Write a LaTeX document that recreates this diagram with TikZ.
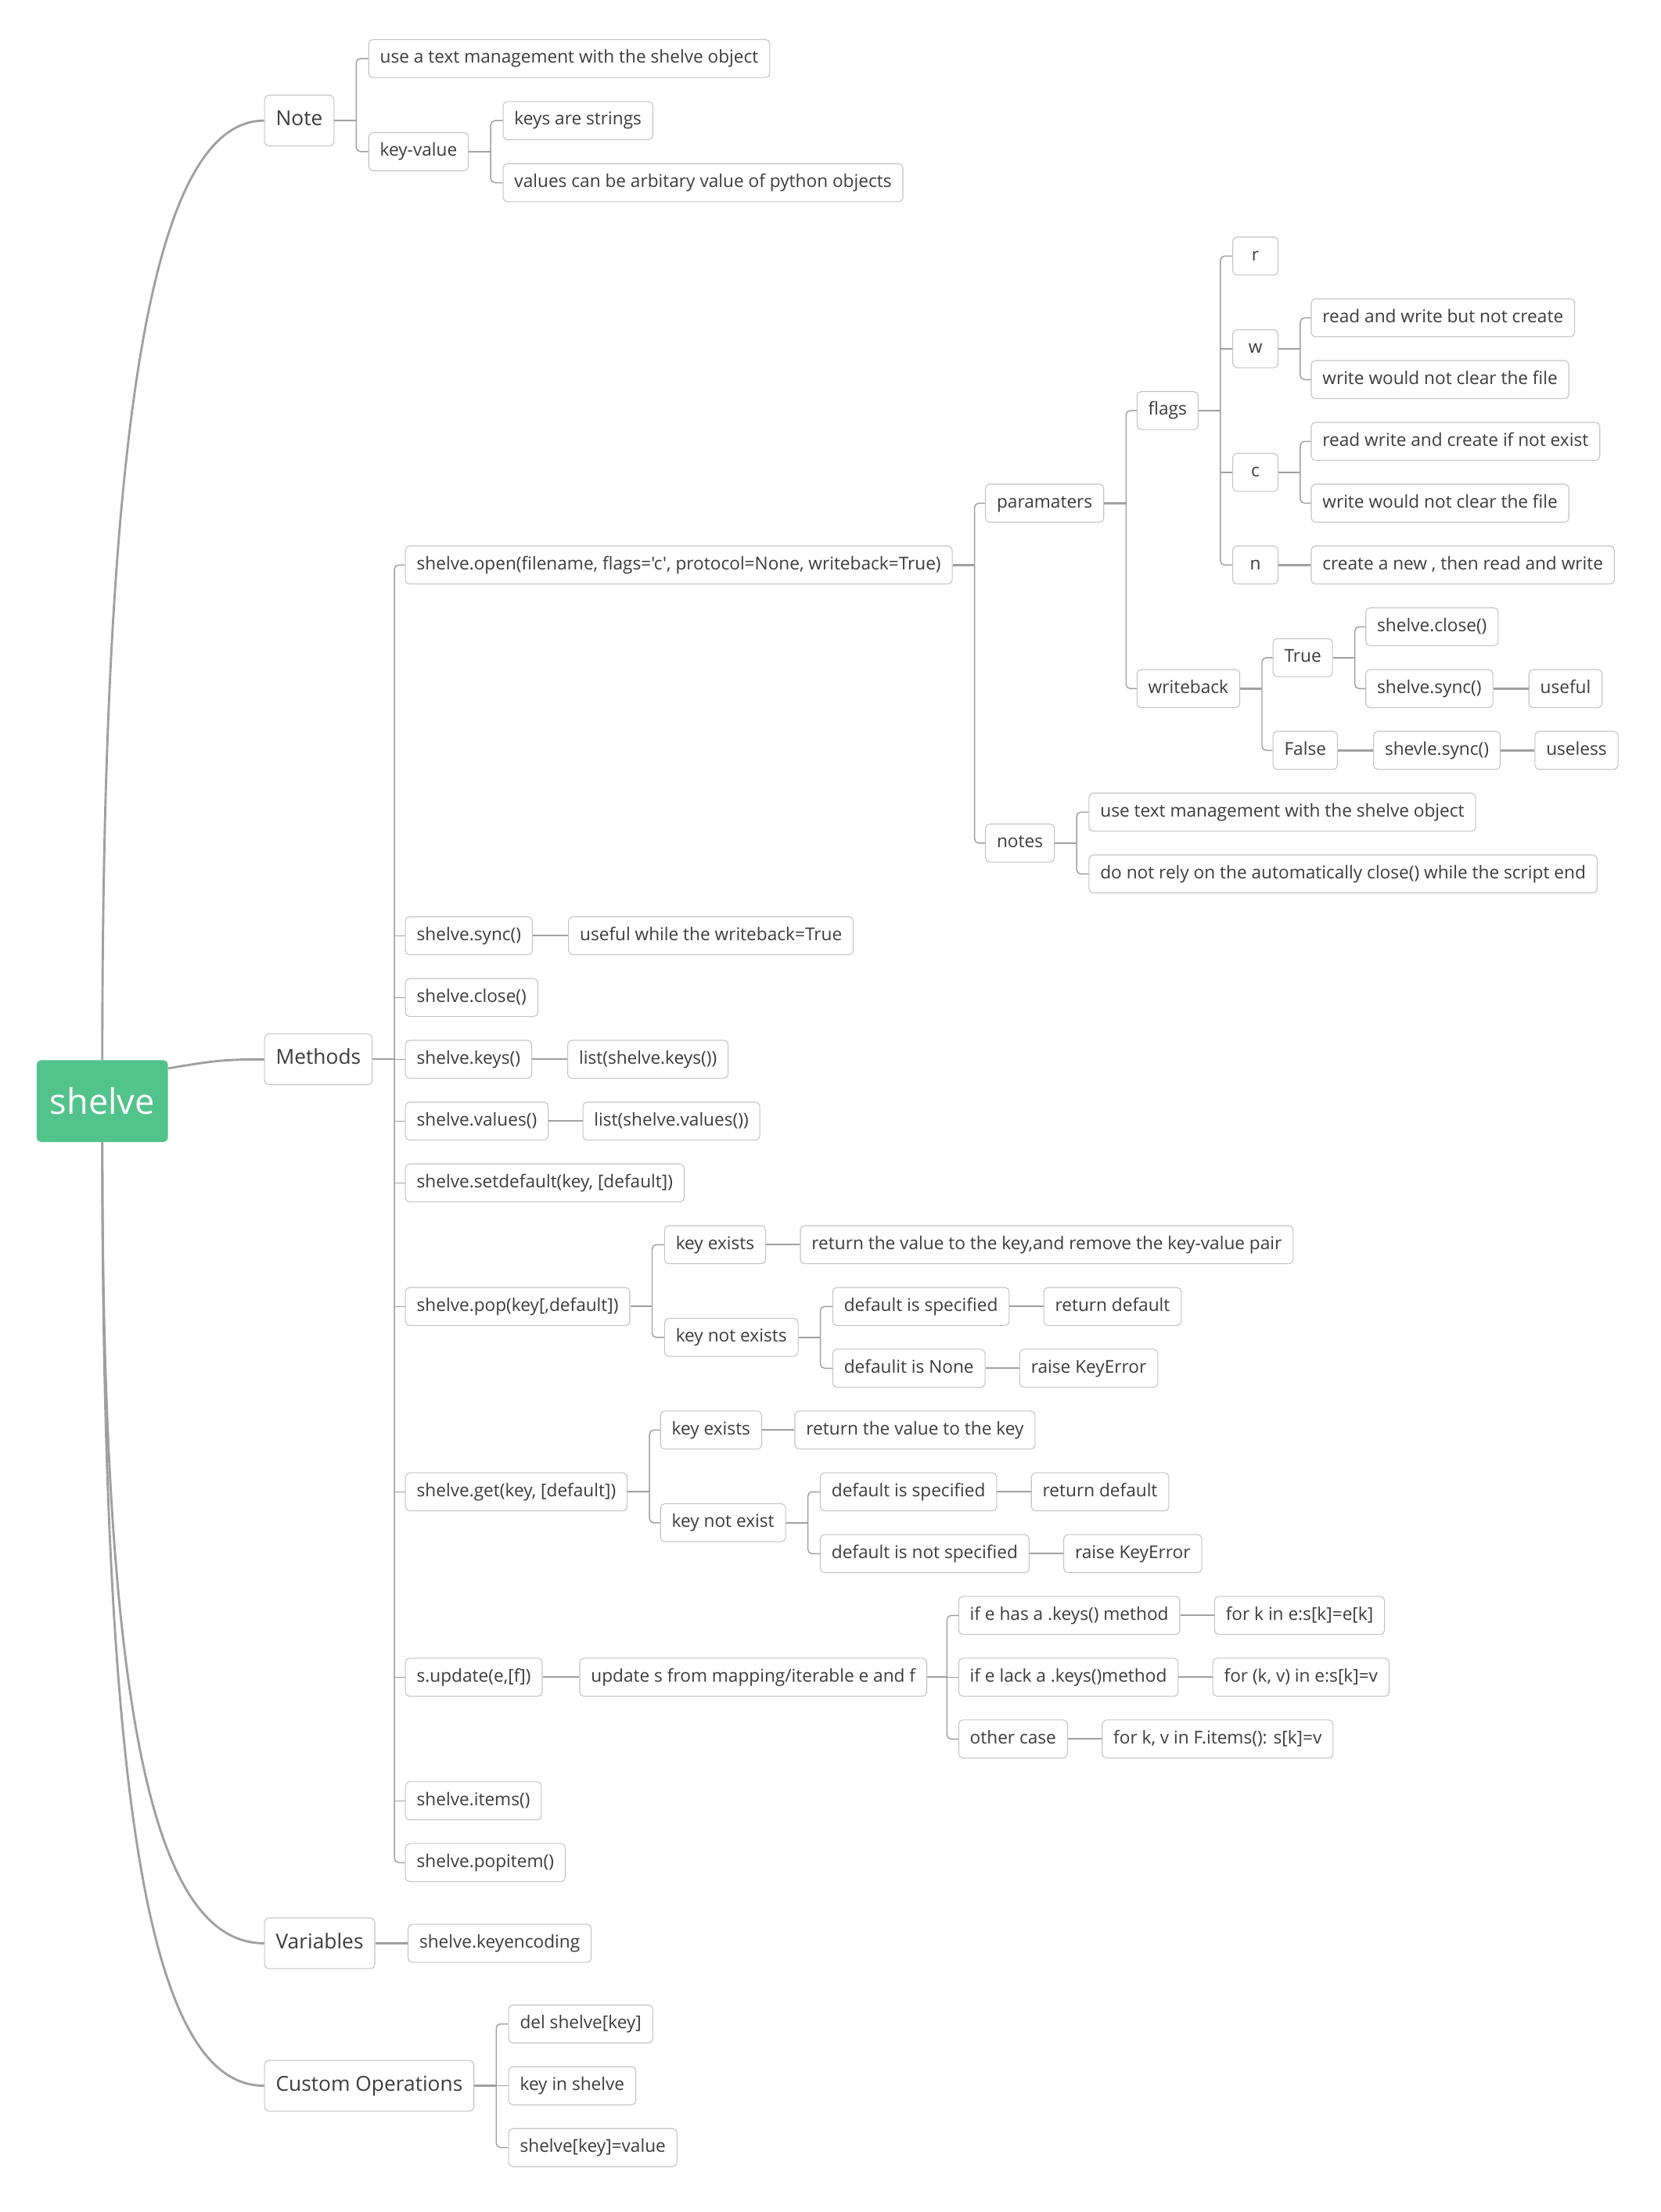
\documentclass[tikz,border=0pt]{standalone}
\usepackage{fontspec}
\setmainfont{Open Sans}[Ligatures=TeXOff]
\usepackage{tikz}
\usetikzlibrary{positioning}
\definecolor{rootgreen}{RGB}{82, 195, 139}
\definecolor{boxgray}{RGB}{196, 196, 196}
\definecolor{textgray}{RGB}{60, 60, 60}
\definecolor{linegray}{RGB}{160, 160, 160}

\begin{document}
\begin{tikzpicture}[
    x=1pt, y=1pt,
    base/.style={rectangle, rounded corners=3pt, draw=boxgray, line width=0.6pt, text=textgray, font=\fontsize{12.55}{15}\selectfont, minimum height=27pt, inner xsep=8pt, inner ysep=0pt, text height=9.2pt, text depth=2.8pt},
    topic/.style={base, font=\fontsize{14.6}{18}\selectfont, minimum height=36pt, text height=10.8pt, text depth=3.4pt},
    letter/.style={base, minimum width=32pt},
    root/.style={rectangle, rounded corners=3pt, fill=rootgreen, text=white, font=\fontsize{25}{30}\selectfont, minimum width=93pt, minimum height=58pt},
    stem/.style={draw=linegray, line width=1.3pt},
    branch/.style={draw=linegray, line width=0.8pt, rounded corners=3pt},
    curve/.style={draw=linegray, line width=1.6pt}
]
\path[use as bounding box, fill=white] (0,0) rectangle (1177,-1568);

\node[root] (shelve) at (72.5,-780.5) {shelve};

\node[topic, right=68pt of shelve, yshift=695pt] (note) {Note};
\node[topic, right=68pt of shelve, yshift=29.6pt] (methods) {Methods};
\node[topic, right=68pt of shelve, yshift=-597pt] (vars) {Variables};
\node[topic, right=68pt of shelve, yshift=-698pt] (custom) {Custom Operations};

\draw[curve] (shelve.north) .. controls +(0,450) and +(-80,0) .. (note.west);
\draw[curve] ([yshift=-6pt]shelve.north east) .. controls +(30,5) and +(-30,0) .. (methods.west);
\draw[curve] (shelve.south) .. controls +(0,-400) and +(-80,0) .. (vars.west);
\draw[curve] (shelve.south) .. controls +(0,-480) and +(-80,0) .. (custom.west);

% Note
\node[base, right=24pt of note, yshift=44pt] (n-text) {use a text management with the shelve object};
\node[base, right=24pt of note, yshift=-22pt] (n-kv) {key-value};
\node[base, right=24pt of n-kv, yshift=22pt] (n-keys) {keys are strings};
\node[base, right=24pt of n-kv, yshift=-22pt] (n-vals) {values can be arbitary value of python objects};

\draw[stem] (note.east) -- ++(15.5pt,0) coordinate (note-j);
\draw[branch] (n-text.west) -| (note-j) |- (n-kv.west);
\draw[stem] (n-kv.east) -- ++(15.5pt,0) coordinate (kv-j);
\draw[branch] (n-keys.west) -| (kv-j) |- (n-vals.west);

% Methods
\node[base, right=23pt of methods, yshift=350.4pt] (open) {shelve.open(filename, flags='c', protocol=None, writeback=True)};
\node[base, right=23pt of methods, yshift=87.6pt] (m-sync) {shelve.sync()};
\node[base, right=23pt of methods, yshift=43.8pt] (m-close) {shelve.close()};
\node[base, right=23pt of methods] (m-keys) {shelve.keys()};
\node[base, right=23pt of methods, yshift=-43.8pt] (m-values) {shelve.values()};
\node[base, right=23pt of methods, yshift=-87.6pt] (m-setdef) {shelve.setdefault(key, [default])};
\node[base, right=23pt of methods, yshift=-175.2pt] (m-pop) {shelve.pop(key[,default])};
\node[base, right=23pt of methods, yshift=-306.6pt] (m-get) {shelve.get(key, [default])};
\node[base, right=23pt of methods, yshift=-438pt] (m-update) {s.update(e,[f])};
\node[base, right=23pt of methods, yshift=-525.6pt] (m-items) {shelve.items()};
\node[base, right=23pt of methods, yshift=-569.4pt] (m-popitem) {shelve.popitem()};

\draw[stem] (methods.east) -- ++(15.5pt,0) coordinate (methods-j);
\draw[branch] (open.west) -| (methods-j) |- (m-popitem.west);
\draw[branch] (methods-j |- m-sync.west) -- (m-sync.west);
\draw[branch] (methods-j |- m-close.west) -- (m-close.west);
\draw[branch] (methods-j |- m-keys.west) -- (m-keys.west);
\draw[branch] (methods-j |- m-values.west) -- (m-values.west);
\draw[branch] (methods-j |- m-setdef.west) -- (m-setdef.west);
\draw[branch] (methods-j |- m-pop.west) -- (m-pop.west);
\draw[branch] (methods-j |- m-get.west) -- (m-get.west);
\draw[branch] (methods-j |- m-update.west) -- (m-update.west);
\draw[branch] (methods-j |- m-items.west) -- (m-items.west);

% shelve.open
\node[base, right=23pt of open, yshift=43.8pt] (param) {paramaters};
\node[base, right=23pt of open, yshift=-197.1pt] (o-notes) {notes};
\node[base, right=23pt of param, yshift=65.7pt] (flags) {flags};
\node[base, right=23pt of param, yshift=-131.4pt] (wback) {writeback};

\node[letter, right=24pt of flags, yshift=109.5pt] (f-r) {r};
\node[letter, right=24pt of flags, yshift=43.8pt] (f-w) {w};
\node[letter, right=24pt of flags, yshift=-43.8pt] (f-c) {c};
\node[letter, right=24pt of flags, yshift=-109.5pt] (f-n) {n};
\node[base, right=23pt of f-w, yshift=21.9pt] (w-1) {read and write but not create};
\node[base, right=23pt of f-w, yshift=-21.9pt] (w-2) {write would not clear the file};
\node[base, right=23pt of f-c, yshift=21.9pt] (c-1) {read write and create if not exist};
\node[base, right=23pt of f-c, yshift=-21.9pt] (c-2) {write would not clear the file};
\node[base, right=23pt of f-n] (n-1) {create a new , then read and write};

\node[base, right=23pt of wback, yshift=21.9pt] (wb-true) {True};
\node[base, right=23pt of wback, yshift=-43.8pt] (wb-false) {False};
\node[base, right=23pt of wb-true, yshift=21.9pt] (t-close) {shelve.close()};
\node[base, right=23pt of wb-true, yshift=-21.9pt] (t-sync) {shelve.sync()};
\node[base, right=25pt of t-sync] (t-useful) {useful};
\node[base, right=25pt of wb-false] (f-sync) {shevle.sync()};
\node[base, right=24pt of f-sync] (f-useless) {useless};

\node[base, right=24pt of o-notes, yshift=21.9pt] (nt-1) {use text management with the shelve object};
\node[base, right=24pt of o-notes, yshift=-21.9pt] (nt-2) {do not rely on the automatically close() while the script end};

\draw[stem] (open.east) -- ++(15.5pt,0) coordinate (open-j);
\draw[branch] (param.west) -| (open-j) |- (o-notes.west);
\draw[stem] (param.east) -- ++(15.5pt,0) coordinate (param-j);
\draw[branch] (flags.west) -| (param-j) |- (wback.west);
\draw[stem] (flags.east) -- ++(15.5pt,0) coordinate (flags-j);
\draw[branch] (f-r.west) -| (flags-j) |- (f-n.west);
\draw[branch] (flags-j |- f-w.west) -- (f-w.west);
\draw[branch] (flags-j |- f-c.west) -- (f-c.west);
\draw[stem] (f-w.east) -- ++(15.5pt,0) coordinate (w-j);
\draw[branch] (w-1.west) -| (w-j) |- (w-2.west);
\draw[stem] (f-c.east) -- ++(15.5pt,0) coordinate (c-j);
\draw[branch] (c-1.west) -| (c-j) |- (c-2.west);
\draw[stem] (f-n) -- (n-1);
\draw[stem] (wback.east) -- ++(15.5pt,0) coordinate (wback-j);
\draw[branch] (wb-true.west) -| (wback-j) |- (wb-false.west);
\draw[stem] (wb-true.east) -- ++(15.5pt,0) coordinate (true-j);
\draw[branch] (t-close.west) -| (true-j) |- (t-sync.west);
\draw[stem] (t-sync) -- (t-useful);
\draw[stem] (wb-false) -- (f-sync);
\draw[stem] (f-sync) -- (f-useless);
\draw[stem] (o-notes.east) -- ++(15.5pt,0) coordinate (notes-j);
\draw[branch] (nt-1.west) -| (notes-j) |- (nt-2.west);

% sync, keys, values
\node[base, right=25pt of m-sync] (sync-1) {useful while the writeback=True};
\node[base, right=25pt of m-keys] (keys-1) {list(shelve.keys())};
\node[base, right=24pt of m-values] (values-1) {list(shelve.values())};

\draw[stem] (m-sync) -- (sync-1);
\draw[stem] (m-keys) -- (keys-1);
\draw[stem] (m-values) -- (values-1);

% shelve.pop
\node[base, right=24pt of m-pop, yshift=43.8pt] (pop-ke) {key exists};
\node[base, right=24pt of m-pop, yshift=-21.9pt] (pop-kne) {key not exists};
\node[base, right=24pt of pop-ke] (pop-ret) {return the value to the key,and remove the key-value pair};
\node[base, right=24pt of pop-kne, yshift=21.9pt] (pop-ds) {default is specified};
\node[base, right=24pt of pop-kne, yshift=-21.9pt] (pop-dn) {defaulit is None};
\node[base, right=24pt of pop-ds] (pop-rd) {return default};
\node[base, right=24pt of pop-dn] (pop-err) {raise KeyError};

\draw[stem] (m-pop.east) -- ++(15.5pt,0) coordinate (pop-j);
\draw[branch] (pop-ke.west) -| (pop-j) |- (pop-kne.west);
\draw[stem] (pop-ke) -- (pop-ret);
\draw[stem] (pop-kne.east) -- ++(15.5pt,0) coordinate (pop-kne-j);
\draw[branch] (pop-ds.west) -| (pop-kne-j) |- (pop-dn.west);
\draw[stem] (pop-ds) -- (pop-rd);
\draw[stem] (pop-dn) -- (pop-err);

% shelve.get
\node[base, right=23pt of m-get, yshift=43.8pt] (get-ke) {key exists};
\node[base, right=23pt of m-get, yshift=-21.9pt] (get-kne) {key not exist};
\node[base, right=23pt of get-ke] (get-ret) {return the value to the key};
\node[base, right=24pt of get-kne, yshift=21.9pt] (get-ds) {default is specified};
\node[base, right=24pt of get-kne, yshift=-21.9pt] (get-dn) {default is not specified};
\node[base, right=24pt of get-ds] (get-rd) {return default};
\node[base, right=24pt of get-dn] (get-err) {raise KeyError};

\draw[stem] (m-get.east) -- ++(15.5pt,0) coordinate (get-j);
\draw[branch] (get-ke.west) -| (get-j) |- (get-kne.west);
\draw[stem] (get-ke) -- (get-ret);
\draw[stem] (get-kne.east) -- ++(15.5pt,0) coordinate (get-kne-j);
\draw[branch] (get-ds.west) -| (get-kne-j) |- (get-dn.west);
\draw[stem] (get-ds) -- (get-rd);
\draw[stem] (get-dn) -- (get-err);

% s.update
\node[base, right=26pt of m-update] (upd-1) {update s from mapping/iterable e and f};
\node[base, right=22pt of upd-1, yshift=43.8pt] (upd-has) {if e has a .keys() method};
\node[base, right=22pt of upd-1] (upd-lack) {if e lack a .keys()method};
\node[base, right=22pt of upd-1, yshift=-43.8pt] (upd-other) {other case};
\node[base, right=24pt of upd-has] (has-1) {for k in e:s[k]=e[k]};
\node[base, right=24pt of upd-lack] (lack-1) {for (k, v) in e:s[k]=v};
\node[base, right=24pt of upd-other] (other-1) {for k, v in F.items(): s[k]=v};

\draw[stem] (m-update) -- (upd-1);
\draw[stem] (upd-1.east) -- ++(14pt,0) coordinate (upd-j);
\draw[branch] (upd-has.west) -| (upd-j) |- (upd-other.west);
\draw[branch] (upd-j) -- (upd-lack.west);
\draw[stem] (upd-has) -- (has-1);
\draw[stem] (upd-lack) -- (lack-1);
\draw[stem] (upd-other) -- (other-1);

% Variables
\node[base, right=23pt of vars] (v-enc) {shelve.keyencoding};
\draw[stem] (vars) -- (v-enc);

% Custom Operations
\node[base, right=24pt of custom, yshift=43.8pt] (c-del) {del shelve[key]};
\node[base, right=24pt of custom] (c-in) {key in shelve};
\node[base, right=24pt of custom, yshift=-43.8pt] (c-set) {shelve[key]=value};

\draw[stem] (custom.east) -- ++(15.5pt,0) coordinate (custom-j);
\draw[branch] (c-del.west) -| (custom-j) |- (c-set.west);
\draw[branch] (custom-j) -- (c-in.west);

\end{tikzpicture}
\end{document}
